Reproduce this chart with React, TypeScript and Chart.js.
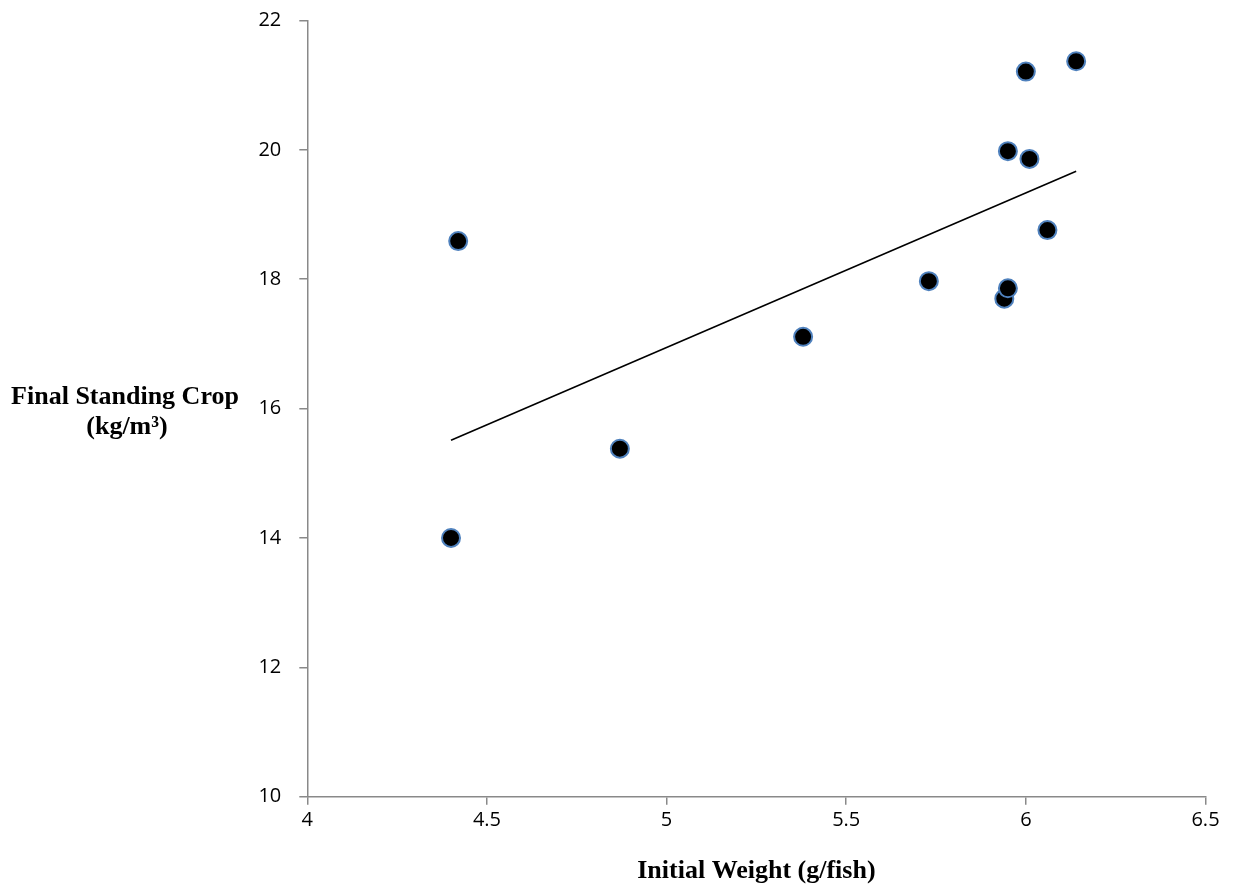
import React, { useEffect, useRef } from "react";
import { Chart, registerables } from "chart.js";

Chart.register(...registerables);

// Data
const initialWeight = [4.40, 4.42, 4.87, 5.38, 5.73, 5.94, 5.95, 5.95, 6.01, 6.00, 6.14, 6.06];
const finalCrop = [14.00, 18.59, 15.38, 17.11, 17.97, 17.70, 17.86, 19.98, 19.86, 21.21, 21.37, 18.76];

// Linear trend line end points
const trendX = [4.40, 6.14];
const trendY = [15.51, 19.67];

const xTickLabels = ["4", "4.5", "5", "5.5", "6", "6.5"];
const yTickLabels = ["10", "12", "14", "16", "18", "20", "22"];

const xTitle = "Initial Weight (g/fish)";
const yTitleLines = ["Final Standing Crop", "(kg/m³)"];

const titlePlugin = {
  id: "titlesPlugin",
  afterDraw(chart: any) {
    const ctx = chart.ctx;
    const area = chart.chartArea;
    ctx.save();
    ctx.fillStyle = "#000";
    ctx.font = 'bold 26px "Liberation Serif"';
    ctx.textAlign = "center";
    ctx.textBaseline = "alphabetic";
    ctx.fillText(xTitle, (area.left + area.right) / 2, 878);
    ctx.fillText(yTitleLines[0], 125, 404);
    ctx.fillText(yTitleLines[1], 127, 434);
    ctx.restore();
  },
};

export default function App() {
  const ref = useRef<HTMLCanvasElement | null>(null);

  useEffect(() => {
    if (!ref.current) return;
    const chart = new Chart(ref.current, {
      type: "scatter",
      data: {
        datasets: [
          {
            label: "Observed",
            data: initialWeight.map((x, i) => ({ x, y: finalCrop[i] })),
            backgroundColor: "#000000",
            borderColor: "#4F81BD",
            borderWidth: 2,
            pointRadius: 9,
            pointHoverRadius: 9,
          },
          {
            type: "line",
            label: "Trend",
            data: trendX.map((x, i) => ({ x, y: trendY[i] })),
            borderColor: "#000000",
            borderWidth: 1.6,
            pointRadius: 0,
            fill: false,
            showLine: true,
          } as any,
        ],
      },
      options: {
        responsive: false,
        animation: false,
        layout: { padding: { left: 0, right: 28.5, top: 20.5, bottom: 0 } },
        plugins: {
          legend: { display: false },
          tooltip: { enabled: false },
          title: { display: false },
        },
        scales: {
          x: {
            type: "linear",
            min: 4,
            max: 6.5,
            ticks: {
              stepSize: 0.5,
              color: "#000",
              font: { family: '"Open Sans"', size: 20 },
              padding: 4,
              maxRotation: 0,
              callback: (_v: any, i: number) => xTickLabels[i],
            },
            grid: {
              display: true,
              drawOnChartArea: false,
              drawTicks: true,
              tickLength: 8,
              color: "#898989",
              lineWidth: 1.5,
            },
            border: { display: true, color: "#898989", width: 1.5 },
            afterFit: (scale: any) => {
              scale.height = 91.3;
            },
          },
          y: {
            type: "linear",
            min: 10,
            max: 22,
            ticks: {
              stepSize: 2,
              color: "#000",
              font: { family: '"Open Sans"', size: 20 },
              padding: 18,
              callback: (_v: any, i: number) => yTickLabels[i],
            },
            grid: {
              display: true,
              drawOnChartArea: false,
              drawTicks: true,
              tickLength: 8,
              color: "#898989",
              lineWidth: 1.5,
            },
            border: { display: true, color: "#898989", width: 1.5 },
            afterFit: (scale: any) => {
              scale.width = 307.3;
              scale.paddingTop = 8;
              scale.paddingBottom = 8;
            },
          },
        },
      },
      plugins: [titlePlugin],
    });
    return () => chart.destroy();
  }, []);

  return (
    <div style={{ position: "absolute", left: 0, top: 0, width: 1234, height: 888, background: "#fff" }}>
      <canvas ref={ref} width={1234} height={888} style={{ width: 1234, height: 888, display: "block" }} />
    </div>
  );
}
